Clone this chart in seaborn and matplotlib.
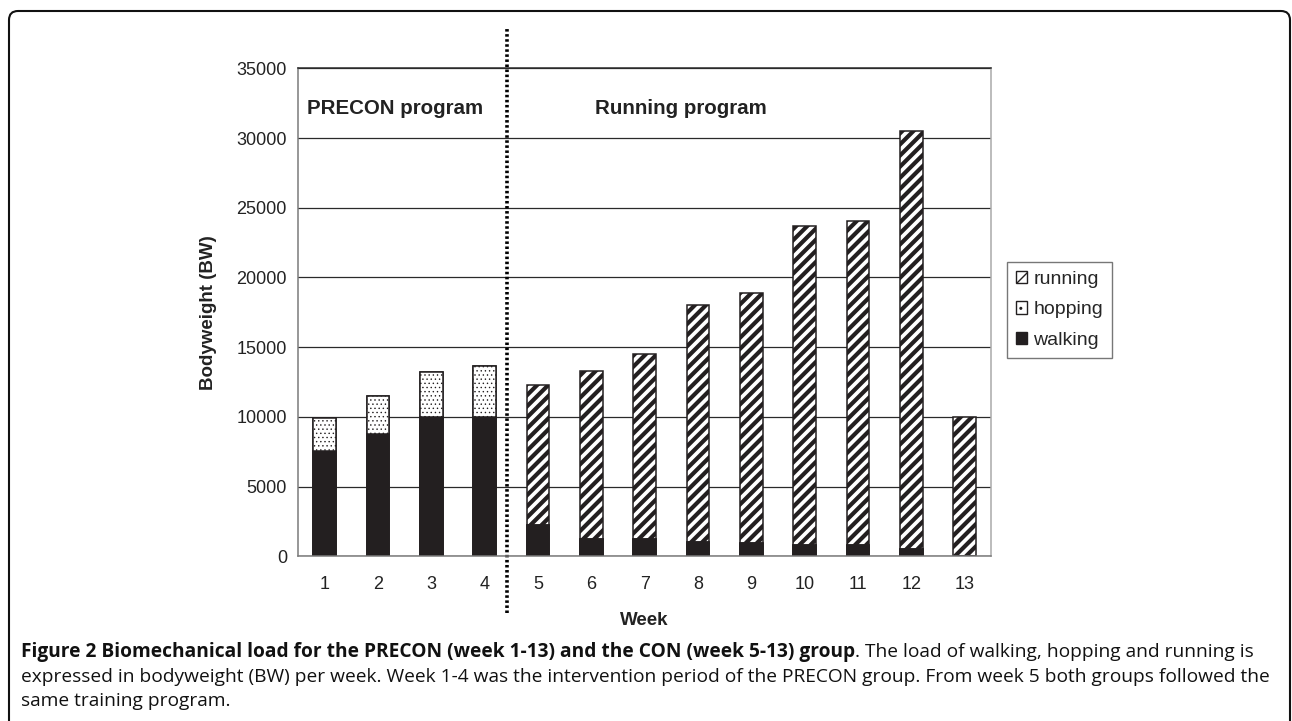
import matplotlib
matplotlib.use("Agg")
import matplotlib.pyplot as plt
import seaborn as sns
import pandas as pd
from matplotlib.patches import Patch, FancyBboxPatch

# =========================
# DATA
# =========================

weeks = [str(w) for w in range(1, 14)]
walking = [7550, 8800, 10000, 10000, 2250, 1250, 1250, 1050, 950, 800, 800, 500, 0]
hopping = [2350, 2700, 3200, 3650, 0, 0, 0, 0, 0, 0, 0, 0, 0]
running = [0, 0, 0, 0, 10050, 12050, 13250, 16950, 17900, 22900, 23250, 30000, 10000]

y_ticks = [0, 5000, 10000, 15000, 20000, 25000, 30000, 35000]

df = pd.DataFrame({"week": weeks, "walking": walking,
                   "hopping": hopping, "running": running})
df["walk_hop"] = df["walking"] + df["hopping"]
df["total"] = df["walk_hop"] + df["running"]

# =========================
# STYLE
# =========================

sns.set_theme(style="white")
plt.rcParams["font.family"] = ["Liberation Sans", "DejaVu Sans"]
plt.rcParams["hatch.linewidth"] = 3.0
plt.rcParams["hatch.color"] = "#1a1a1a"

dark = "#231f20"
fig = plt.figure(figsize=(12.92, 7.21), dpi=100)
ax = fig.add_axes([298 / 1292, 1 - 556.3 / 721, 693.3 / 1292, 488 / 721])

bar_w = 0.43

# stacked bars drawn back to front
sns.barplot(data=df, x="week", y="total", color="white", saturation=1,
            width=bar_w, hatch="///", edgecolor=dark, linewidth=1.1, ax=ax)
n_run = len(ax.patches)
sns.barplot(data=df, x="week", y="walk_hop", color="white", saturation=1,
            width=bar_w, hatch="....", edgecolor=dark, linewidth=1.1, ax=ax)
for p in ax.patches[n_run:]:
    if hasattr(p, "set_hatch_linewidth"):
        p.set_hatch_linewidth(0.5)
sns.barplot(data=df, x="week", y="walking", color=dark, saturation=1,
            width=bar_w, edgecolor=dark, linewidth=1.1, ax=ax)

# =========================
# AXES
# =========================

ax.set_ylim(0, 35000)
ax.set_xlim(-0.5, len(weeks) - 0.5)
ax.set_yticks(y_ticks)
ax.set_yticklabels([str(t) for t in y_ticks])
ax.yaxis.grid(True, color="#2a2a2a", linewidth=0.9)
ax.set_axisbelow(True)
ax.set_xticks([i - 0.5 for i in range(len(weeks) + 1)], minor=True)
ax.tick_params(axis="x", which="major", length=0, pad=14, labelsize=13, colors="#222222")
ax.tick_params(axis="x", which="minor", length=6, width=1, color="#777777", direction="out")
ax.tick_params(axis="y", which="major", length=5, width=1, color="#777777",
               direction="out", labelsize=13, labelcolor="#222222", pad=3)
for side in ["left", "bottom", "right", "top"]:
    ax.spines[side].set_visible(True)
    ax.spines[side].set_color("#7a7a7a")
    ax.spines[side].set_linewidth(1.1)
ax.spines["top"].set_color("#2a2a2a")
ax.spines["right"].set_color("#aaaaaa")

ax.set_xlabel("Week", fontsize=13.5, fontweight="bold", color="#222222", labelpad=14)
ax.set_ylabel("Bodyweight (BW)", fontsize=13.5, fontweight="bold", color="#222222", labelpad=14)

# program labels and divider
ax.text(0.013, 0.918, "PRECON program", transform=ax.transAxes, fontsize=14.8,
        fontweight="bold", color="#222222", va="center", ha="left")
ax.text(0.428, 0.918, "Running program", transform=ax.transAxes, fontsize=14.8,
        fontweight="bold", color="#222222", va="center", ha="left")
ax.plot([3.42, 3.42], [-0.116, 1.083], transform=ax.get_xaxis_transform(),
        color="black", linewidth=2.6, linestyle=(0, (0.7, 0.7)), clip_on=False)

# legend
handles = [Patch(facecolor="white", edgecolor=dark, hatch="//", label="running"),
           Patch(facecolor="white", edgecolor=dark, hatch="..", label="hopping"),
           Patch(facecolor=dark, edgecolor=dark, label="walking")]
leg = fig.legend(handles=handles, loc="upper left",
                 bbox_to_anchor=(1007 / 1292, 1 - 262 / 721), fontsize=14,
                 frameon=True, fancybox=False, edgecolor="#555555",
                 handlelength=0.6, handleheight=0.6, handletextpad=0.3,
                 labelspacing=0.7, borderpad=0.45, borderaxespad=0)
leg.get_frame().set_linewidth(1.0)
for h in leg.legend_handles:
    if hasattr(h, "set_hatch_linewidth"):
        h.set_hatch_linewidth(1.0)

# =========================
# FRAME AND CAPTION
# =========================

fig.add_artist(FancyBboxPatch((9, -30), 1281, 721 - 11 + 30,
                              boxstyle="round,pad=0,rounding_size=9",
                              transform=None, facecolor="none",
                              edgecolor="#111111", linewidth=1.5))

cap_font = ["Open Sans", "DejaVu Sans"]
cap_size = 13.75
x0 = 21 / 1292
t1 = fig.text(x0, 1 - 652 / 721, "Figure 2 Biomechanical load for the PRECON (week 1-13) and the CON (week 5-13) group",
              fontsize=cap_size, fontweight="bold", family=cap_font, va="center", color="#111111")
fig.canvas.draw()
bb = t1.get_window_extent()
fig.text(bb.x1 / 1292, 1 - 652 / 721, ". The load of walking, hopping and running is",
         fontsize=cap_size, family=cap_font, va="center", color="#111111")
fig.text(x0, 1 - 677 / 721,
         "expressed in bodyweight (BW) per week. Week 1-4 was the intervention period of the PRECON group. From week 5 both groups followed the",
         fontsize=cap_size, family=cap_font, va="center", color="#111111")
fig.text(x0, 1 - 701 / 721, "same training program.",
         fontsize=cap_size, family=cap_font, va="center", color="#111111")

plt.savefig("out.png", dpi=100)
plt.close()
